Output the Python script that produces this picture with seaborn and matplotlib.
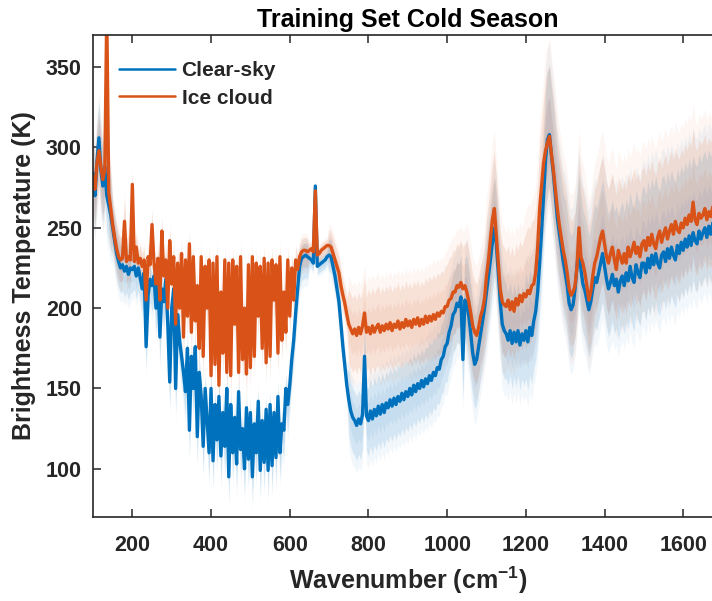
import numpy as np
import pandas as pd
import matplotlib
matplotlib.use("Agg")
import matplotlib.pyplot as plt
import seaborn as sns

# Spectral grid: one channel every 5 cm^-1, 100-1695 cm^-1
wavenumber = np.arange(100, 1700, 5)

# Mean brightness temperature (K), clear-sky scenes
clear_sky = [
    284, 270, 291, 306, 286, 276, 288, 270, 264, 258,   # 100
    250, 242, 234, 229, 225, 227, 223, 226, 221, 225,   # 150
    224, 226, 220, 225, 219, 212, 222, 176, 208, 218,   # 200
    214, 220, 200, 218, 182, 212, 204, 218, 190, 154,   # 250
    200, 212, 150, 196, 180, 170, 160, 148, 175, 124,   # 300
    170, 150, 176, 120, 160, 145, 114, 150, 130, 110,   # 350
    150, 105, 140, 118, 145, 108, 135, 114, 150, 95,    # 400
    140, 110, 132, 103, 148, 112, 125, 100, 138, 106,   # 450
    135, 95, 128, 110, 142, 99, 130, 104, 137, 99,      # 500
    140, 102, 135, 107, 145, 110, 128, 124, 150, 140,   # 550
    152, 168, 180, 197, 212, 226, 231, 232, 233, 232,   # 600
    231, 230, 228, 276, 226, 227, 228, 229, 230, 232,   # 650
    233, 232, 226, 220, 212, 204, 190, 176, 164, 152,   # 700
    143, 136, 132, 130, 127, 131, 128, 134, 170, 133,   # 750
    130, 136, 131, 137, 133, 139, 134, 140, 135, 141,   # 800
    138, 143, 139, 144, 140, 145, 142, 147, 143, 148,   # 850
    145, 150, 146, 152, 148, 153, 150, 155, 151, 156,   # 900
    153, 158, 155, 160, 158, 163, 162, 168, 170, 176,   # 950
    178, 185, 189, 196, 198, 203, 201, 207, 168, 205,   # 1000
    203, 195, 184, 172, 165, 168, 176, 184, 192, 200,   # 1050
    210, 220, 230, 241, 250, 240, 222, 204, 190, 186,   # 1100
    184, 180, 186, 178, 185, 179, 186, 177, 184, 180,   # 1150
    186, 179, 188, 183, 192, 198, 210, 228, 248, 270,   # 1200
    292, 305, 308, 295, 284, 270, 256, 247, 238, 229,   # 1250
    222, 214, 203, 199, 202, 212, 226, 238, 224, 215,   # 1300
    211, 205, 199, 204, 212, 219, 216, 222, 228, 234,   # 1350
    226, 218, 212, 216, 221, 214, 218, 210, 217, 220,   # 1400
    214, 222, 217, 226, 219, 216, 227, 222, 219, 228,   # 1450
    228, 222, 231, 225, 233, 227, 234, 228, 225, 233,   # 1500
    235, 229, 237, 231, 238, 233, 230, 239, 234, 241,   # 1550
    236, 243, 238, 245, 239, 247, 242, 240, 248, 243,   # 1600
    247, 250, 244, 251, 246, 253, 248, 252, 255, 249,   # 1650
]

# Mean brightness temperature (K), ice-cloud scenes
ice_cloud = [
    282, 274, 290, 298, 288, 280, 286, 385, 272, 262,   # 100
    252, 244, 237, 232, 230, 231, 254, 229, 232, 230,   # 150
    277, 229, 238, 228, 231, 226, 230, 205, 232, 227,   # 200
    252, 228, 215, 231, 205, 248, 220, 230, 200, 242,   # 250
    215, 232, 190, 228, 200, 234, 182, 230, 195, 240,   # 300
    185, 232, 192, 214, 175, 232, 170, 226, 200, 230,   # 350
    158, 228, 165, 232, 152, 210, 172, 230, 160, 228,   # 400
    158, 230, 190, 226, 160, 232, 168, 200, 159, 227,   # 450
    163, 232, 170, 228, 195, 226, 175, 231, 166, 228,   # 500
    170, 230, 205, 227, 172, 232, 180, 210, 185, 230,   # 550
    195, 225, 205, 230, 224, 232, 235, 236, 236, 235,   # 600
    236, 237, 235, 273, 233, 234, 236, 237, 238, 239,   # 650
    239, 238, 234, 230, 226, 222, 214, 208, 203, 196,   # 700
    190, 187, 184, 187, 183, 188, 184, 189, 197, 185,   # 750
    188, 184, 189, 185, 188, 190, 185, 189, 186, 190,   # 800
    187, 191, 186, 190, 188, 192, 187, 191, 188, 193,   # 850
    189, 192, 188, 193, 190, 194, 189, 193, 190, 195,   # 900
    191, 195, 192, 196, 193, 197, 195, 198, 197, 201,   # 950
    201, 205, 206, 210, 210, 214, 213, 216, 212, 214,   # 1000
    210, 204, 197, 189, 185, 183, 188, 195, 199, 206,   # 1050
    220, 230, 243, 255, 262, 245, 228, 212, 204, 202,   # 1100
    201, 205, 199, 204, 198, 206, 202, 208, 204, 209,   # 1150
    207, 211, 209, 214, 215, 222, 238, 262, 276, 290,   # 1200
    298, 303, 307, 296, 286, 274, 262, 252, 244, 236,   # 1250
    230, 222, 212, 208, 210, 214, 226, 250, 232, 228,   # 1300
    222, 214, 205, 210, 220, 228, 232, 238, 244, 248,   # 1350
    240, 232, 228, 234, 238, 230, 224, 236, 232, 228,   # 1400
    234, 228, 238, 232, 236, 241, 234, 238, 232, 240,   # 1450
    242, 236, 244, 239, 246, 240, 237, 244, 248, 241,   # 1500
    246, 250, 243, 248, 252, 246, 254, 249, 247, 253,   # 1550
    250, 256, 252, 258, 254, 266, 255, 252, 259, 256,   # 1600
    258, 262, 255, 260, 257, 263, 259, 261, 264, 260,   # 1650
]

# Spread of each class above / below its mean (K), one value per 50 cm^-1 band
clear_up = [22, 14, 8, 8, 8, 8, 8, 8, 8, 8, 8, 4, 10, 18, 20, 20,
            20, 22, 26, 30, 32, 30, 36, 42, 46, 46, 46, 46, 48, 48, 48, 48]
clear_lo = [22, 16, 14, 16, 16, 16, 16, 16, 16, 16, 14, 5, 10, 22, 22, 22,
            22, 22, 24, 28, 30, 28, 30, 32, 30, 30, 30, 30, 30, 30, 30, 30]
ice_up = [22, 14, 8, 8, 8, 8, 8, 8, 8, 8, 8, 4, 10, 22, 24, 24,
          24, 25, 26, 32, 36, 34, 40, 45, 46, 46, 46, 46, 46, 46, 46, 46]
ice_lo = [22, 14, 10, 10, 12, 12, 12, 12, 12, 12, 10, 5, 10, 24, 25, 25,
          25, 25, 26, 30, 32, 30, 32, 34, 32, 32, 32, 32, 32, 32, 32, 32]

x_ticks = [200, 400, 600, 800, 1000, 1200, 1400, 1600]
y_ticks = [100, 150, 200, 250, 300, 350]

BLUE = "#0072BD"
ORANGE = "#D95319"
AXIS = "#262626"

per_band = len(wavenumber) // len(clear_up)
df = pd.DataFrame({
    "wavenumber": wavenumber,
    "clear": np.asarray(clear_sky, float),
    "ice": np.asarray(ice_cloud, float),
    "clear_up": np.repeat(clear_up, per_band),
    "clear_lo": np.repeat(clear_lo, per_band),
    "ice_up": np.repeat(ice_up, per_band),
    "ice_lo": np.repeat(ice_lo, per_band),
})

sns.set_theme(style="ticks")
plt.rcParams["font.family"] = ["Liberation Sans", "DejaVu Sans"]
plt.rcParams["font.weight"] = "bold"
plt.rcParams["mathtext.fontset"] = "custom"
plt.rcParams["mathtext.rm"] = "Liberation Sans:bold"
plt.rcParams["mathtext.bf"] = "Liberation Sans:bold"

fig = plt.figure(figsize=(7.12, 6.01), dpi=100)
ax = fig.add_axes([93 / 712, 84 / 601, 629.6 / 712, 482 / 601])

# Shaded spread, layered for a soft edge
for key, col in (("clear", BLUE), ("ice", ORANGE)):
    for scale, alpha in ((1.35, 0.05), (1.0, 0.12), (0.55, 0.07)):
        ax.fill_between(df["wavenumber"],
                        df[key] - scale * df[f"{key}_lo"],
                        df[key] + scale * df[f"{key}_up"],
                        color=col, alpha=alpha, lw=0)

sns.lineplot(data=df, x="wavenumber", y="clear", color=BLUE, lw=2.4,
             label="Clear-sky", ax=ax, estimator=None, sort=False)
sns.lineplot(data=df, x="wavenumber", y="ice", color=ORANGE, lw=2.4,
             label="Ice cloud", ax=ax, estimator=None, sort=False)

ax.set_xlim(100, 1700)
ax.set_ylim(70, 370)
ax.set_xticks(x_ticks)
ax.set_yticks(y_ticks)
ax.tick_params(direction="in", length=6, width=1.1, top=True, right=True,
               labelsize=15.5, pad=8, colors=AXIS)
ax.tick_params(axis="x", pad=13)
for lab in ax.get_xticklabels() + ax.get_yticklabels():
    lab.set_fontweight("bold")
for sp in ax.spines.values():
    sp.set_color(AXIS)
    sp.set_linewidth(1.2)

ax.set_title("Training Set Cold Season", fontsize=18, fontweight="bold",
             pad=6, color="black")
ax.set_xlabel(r"Wavenumber (cm$^{\mathbf{-1}}$)", fontsize=18,
              fontweight="bold", color=AXIS, labelpad=6)
ax.set_ylabel("Brightness Temperature (K)", fontsize=18, fontweight="bold",
              color=AXIS, labelpad=7)

leg = ax.legend(loc="upper left", bbox_to_anchor=(0.0, 1.0), frameon=False,
                fontsize=15, handlelength=2.7, handletextpad=0.3,
                labelspacing=0.42, borderaxespad=0.85)
for line in leg.get_lines():
    line.set_linewidth(1.8)
for t in leg.get_texts():
    t.set_fontweight("bold")

fig.savefig("out.png", dpi=100)
